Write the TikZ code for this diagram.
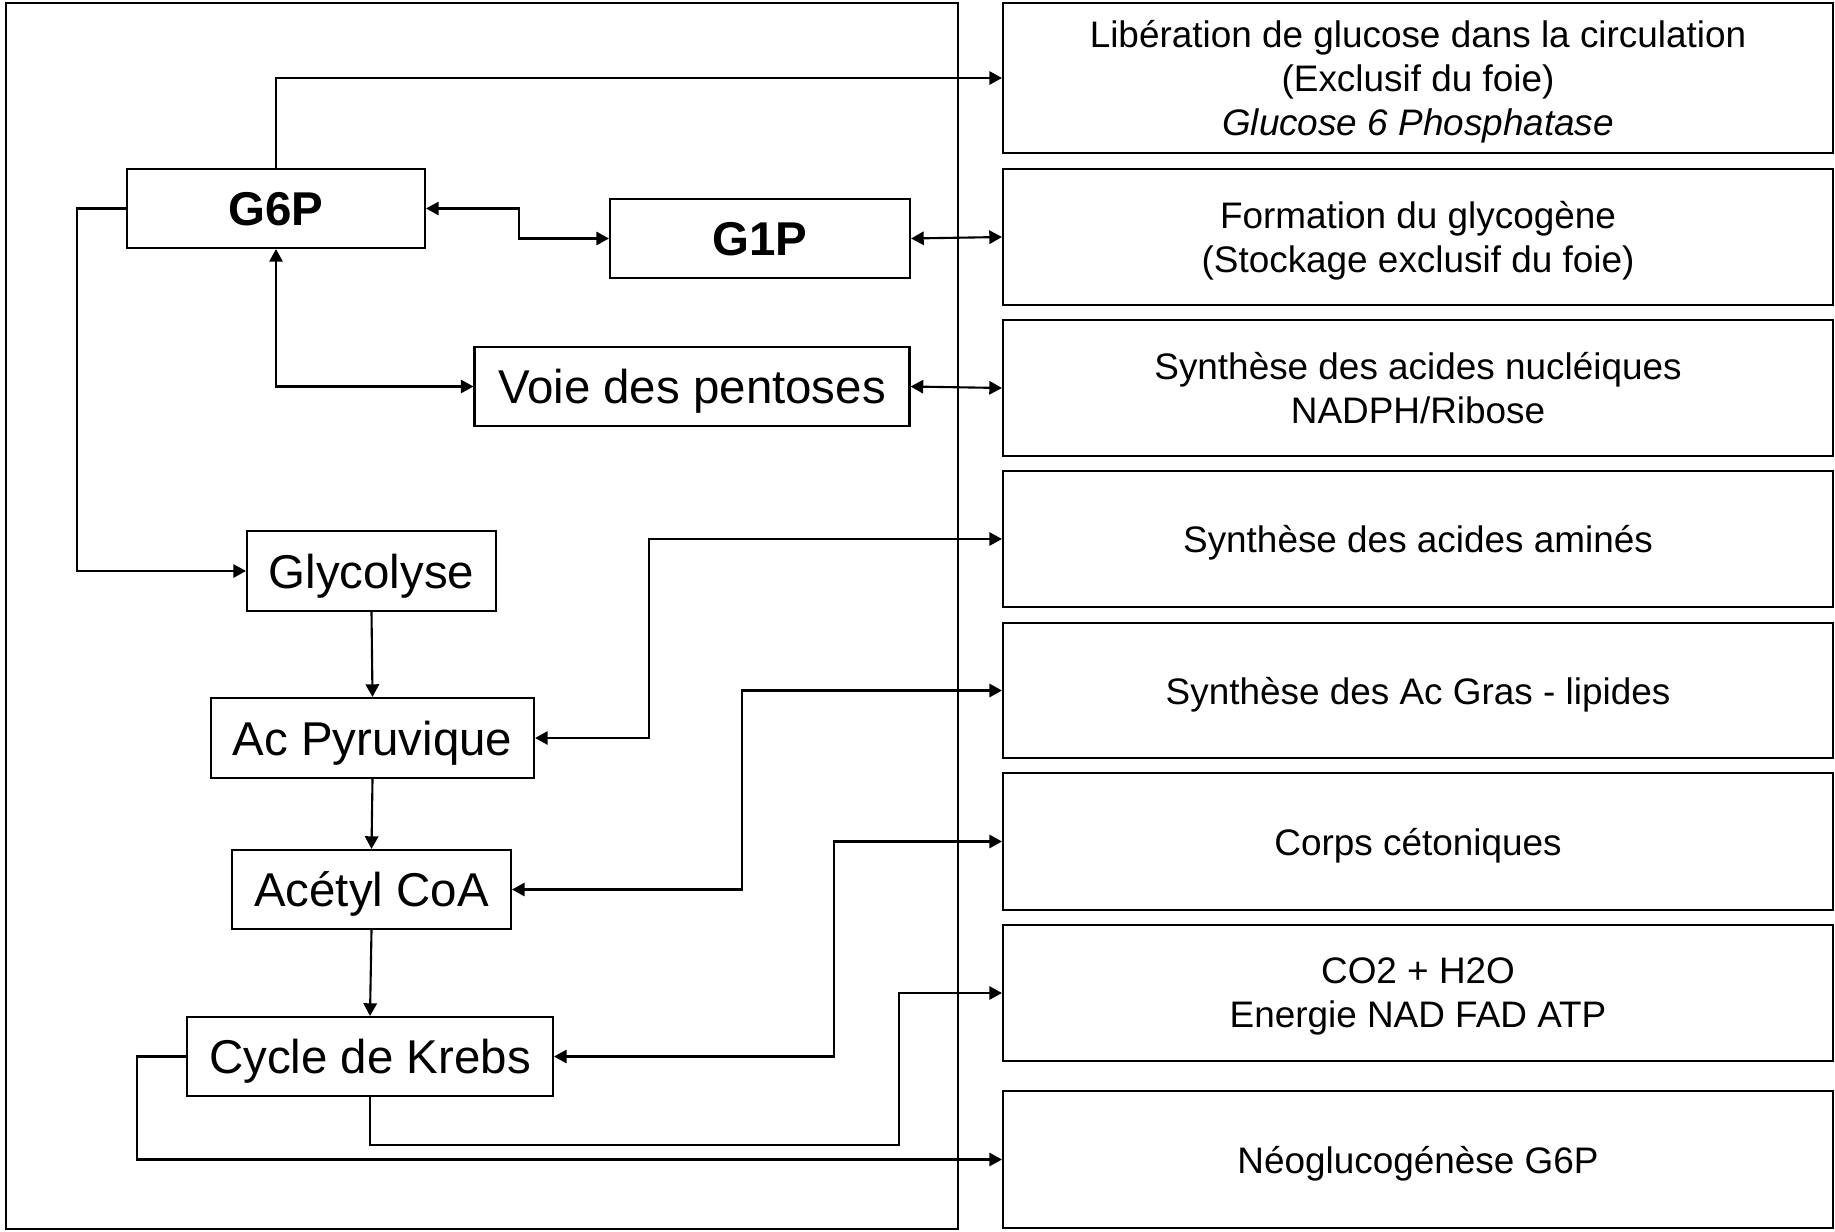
\documentclass[tikz,border=0pt]{standalone}
\usepackage{fontspec}
\setmainfont{Liberation Sans}
\usetikzlibrary{arrows.meta}
\tikzstyle{pathway}=[draw, line width=0.6pt, inner sep=0pt, text depth=0pt, font=\fontsize{13.5}{16}\selectfont]
\tikzstyle{outcome}=[draw, line width=0.6pt, inner sep=0pt, text depth=0pt, minimum width=83mm, align=center, font=\fontsize{10.5}{12.5}\selectfont]
\tikzstyle{link}=[line width=0.6pt, -{Triangle[length=3.6pt,width=3.8pt]}]
\tikzstyle{both ways}=[line width=0.6pt, {Triangle[length=3.6pt,width=3.8pt]}-{Triangle[length=3.6pt,width=3.8pt]}]

\begin{document}
\begin{tikzpicture}[x=0.1mm, y=-0.1mm]
  \useasboundingbox (0,0) rectangle (1835,1232);
  \draw[line width=0.5pt] (6,3) rectangle (958,1229);

  % intermediates
  \node[pathway, minimum width=29.8mm, minimum height=7.9mm,
        font=\fontsize{13.5}{16}\selectfont\bfseries] (g6p) at (276,208.5) {G6P};
  \node[pathway, minimum width=30mm, minimum height=7.9mm,
        font=\fontsize{13.5}{16}\selectfont\bfseries] (g1p) at (760,238.5) {G1P};
  \node[pathway, minimum width=43.5mm, minimum height=7.9mm] (voie) at (692,386.5) {Voie des pentoses};
  \node[pathway, minimum width=24.9mm, minimum height=8mm] (glyc) at (371.5,571) {Glycolyse};
  \node[pathway, minimum width=32.3mm, minimum height=8mm] (pyr) at (372.5,738) {Ac Pyruvique};
  \node[pathway, minimum width=27.9mm, minimum height=7.9mm] (acet) at (371.5,889.5) {Acétyl CoA};
  \node[pathway, minimum width=36.6mm, minimum height=7.9mm] (krebs) at (370,1056.5) {Cycle de Krebs};

  % outcomes
  \node[outcome, minimum height=15mm] (lib) at (1418,78)
    {Libération de glucose dans la circulation\\(Exclusif du foie)\\\textit{Glucose 6 Phosphatase}};
  \node[outcome, minimum height=13.6mm] (glycog) at (1418,237)
    {Formation du glycogène\\(Stockage exclusif du foie)};
  \node[outcome, minimum height=13.6mm] (nucl) at (1418,388)
    {Synthèse des acides nucléiques\\NADPH/Ribose};
  \node[outcome, minimum height=13.6mm] (amin) at (1418,539) {Synthèse des acides aminés};
  \node[outcome, minimum height=13.5mm] (gras) at (1418,690.5) {Synthèse des Ac Gras - lipides};
  \node[outcome, minimum height=13.7mm] (corps) at (1418,841.5) {Corps cétoniques};
  \node[outcome, minimum height=13.6mm] (co2) at (1418,993)
    {CO2 + H2O\\Energie NAD FAD ATP};
  \node[outcome, minimum height=13.7mm] (neo) at (1418,1159.5) {Néoglucogénèse G6P};

  \draw[link] (g6p.north) |- (lib.west);
  \draw[both ways] (g6p.east) -- ++(92.5,0) |- (g1p.west);
  \draw[both ways] (g1p.east) -- (glycog.west);
  \draw[both ways] (g6p.south) |- (voie.west);
  \draw[both ways] (voie.east) -- (nucl.west);
  \draw[link] (g6p.west) -- ++(-49,0) |- (glyc.west);
  \draw[link] (glyc.south) -- (pyr.north);
  \draw[link] (pyr.south) -- (acet.north);
  \draw[link] (acet.south) -- (krebs.north);
  \draw[both ways] (pyr.east) -- ++(114,0) |- (amin.west);
  \draw[both ways] (acet.east) -- ++(230,0) |- (gras.west);
  \draw[both ways] (krebs.east) -- ++(280,0) |- (corps.west);
  \draw[link] (krebs.south) -- ++(0,48) -| ([xshift=-10.3mm]co2.west) -- (co2.west);
  \draw[link] (krebs.west) -- ++(-49,0) |- (neo.west);
\end{tikzpicture}
\end{document}
